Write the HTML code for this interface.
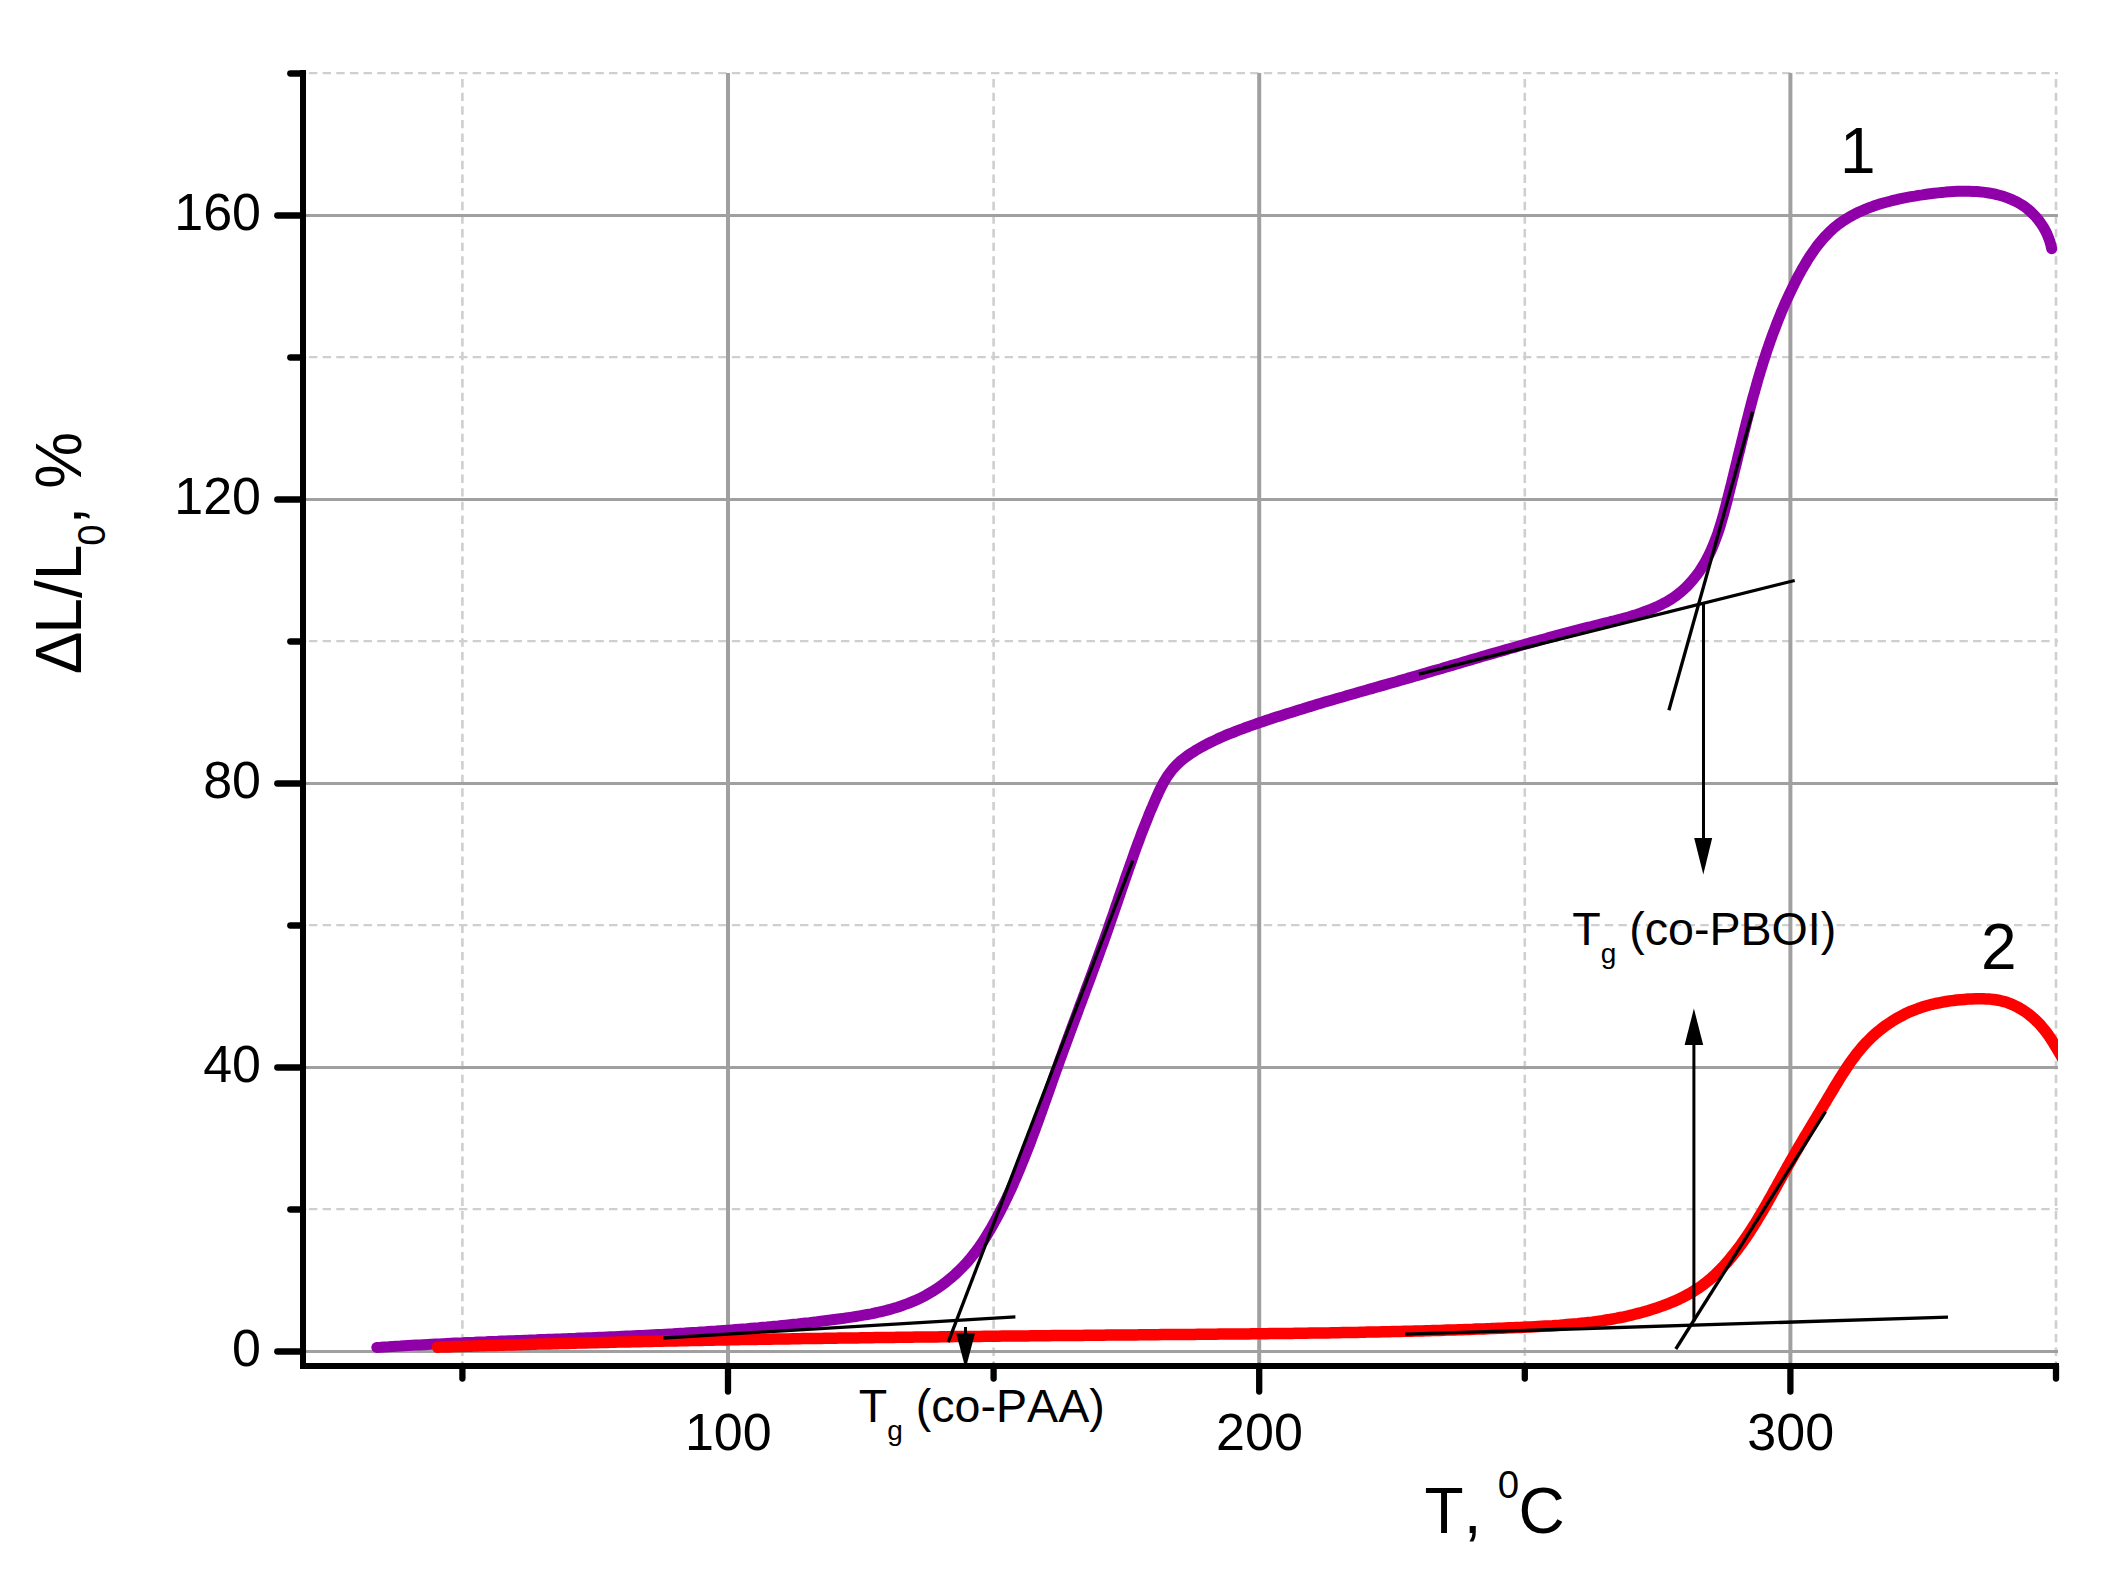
<!DOCTYPE html>
<html lang="en"><head><meta charset="utf-8"><title>TMA curves</title>
<style>
html,body{margin:0;padding:0;background:#fff;}
svg{display:block;}
text{font-family:"Liberation Sans",Arial,Helvetica,sans-serif;fill:#000;font-kerning:none;}
.tk{font-size:52px;}
.ax{font-size:64px;}
.an{font-size:46.6px;}
</style></head><body>
<svg width="2117" height="1582" viewBox="0 0 2117 1582">
<rect x="0" y="0" width="2117" height="1582" fill="#ffffff"/>
<defs><clipPath id="plot"><rect x="303.0" y="70.0" width="1755.0" height="1296.0"/></clipPath></defs>

<g stroke="#cfcfcf" stroke-dasharray="8.4 5.24" fill="none">
<line x1="462.4" y1="79.0" x2="462.4" y2="1366.0" stroke-width="2.6"/>
<line x1="993.6" y1="79.0" x2="993.6" y2="1366.0" stroke-width="2.6"/>
<line x1="1524.8" y1="79.0" x2="1524.8" y2="1366.0" stroke-width="2.6"/>
<line x1="2056.0" y1="79.0" x2="2056.0" y2="1366.0" stroke-width="2.6"/>
<line x1="309.0" y1="1209.1" x2="2058.0" y2="1209.1" stroke-width="2.1"/>
<line x1="309.0" y1="925.1" x2="2058.0" y2="925.1" stroke-width="2.1"/>
<line x1="309.0" y1="641.1" x2="2058.0" y2="641.1" stroke-width="2.1"/>
<line x1="309.0" y1="357.1" x2="2058.0" y2="357.1" stroke-width="2.1"/>
<line x1="309.0" y1="73.1" x2="2058.0" y2="73.1" stroke-width="2.1"/>
</g>
<g stroke="#a0a0a0" fill="none">
<line x1="728.0" y1="73.0" x2="728.0" y2="1366.0" stroke-width="4"/>
<line x1="1259.2" y1="73.0" x2="1259.2" y2="1366.0" stroke-width="4"/>
<line x1="1790.4" y1="73.0" x2="1790.4" y2="1366.0" stroke-width="4"/>
<line x1="303.0" y1="1351.5" x2="2058.0" y2="1351.5" stroke-width="3"/>
<line x1="303.0" y1="1067.5" x2="2058.0" y2="1067.5" stroke-width="3"/>
<line x1="303.0" y1="783.5" x2="2058.0" y2="783.5" stroke-width="3"/>
<line x1="303.0" y1="499.5" x2="2058.0" y2="499.5" stroke-width="3"/>
<line x1="303.0" y1="215.5" x2="2058.0" y2="215.5" stroke-width="3"/>
</g>
<g fill="none" stroke-linejoin="round" clip-path="url(#plot)">
<path d="M376.8,1347.4 L380.7,1347.2 L384.6,1346.9 L388.5,1346.7 L392.4,1346.4 L396.3,1346.2 L400.2,1346.0 L404.1,1345.7 L408.0,1345.5 L411.9,1345.3 L415.8,1345.1 L419.7,1344.9 L423.6,1344.7 L427.5,1344.5 L431.4,1344.3 L435.3,1344.1 L439.2,1343.9 L443.1,1343.7 L447.0,1343.5 L450.9,1343.3 L454.8,1343.1 L458.7,1342.9 L462.6,1342.8 L466.5,1342.6 L470.4,1342.4 L474.3,1342.3 L478.2,1342.1 L482.1,1341.9 L486.0,1341.8 L489.9,1341.6 L493.7,1341.4 L497.6,1341.3 L501.5,1341.1 L505.4,1341.0 L509.3,1340.8 L513.2,1340.7 L517.1,1340.5 L521.0,1340.4 L524.9,1340.2 L528.8,1340.1 L532.7,1339.9 L536.6,1339.8 L540.5,1339.6 L544.4,1339.5 L548.3,1339.3 L552.2,1339.2 L556.1,1339.0 L560.0,1338.9 L563.9,1338.7 L567.8,1338.6 L571.7,1338.4 L575.6,1338.3 L579.5,1338.1 L583.4,1338.0 L587.3,1337.8 L591.2,1337.7 L595.1,1337.5 L599.0,1337.3 L602.9,1337.2 L606.8,1337.0 L610.7,1336.8 L614.6,1336.7 L618.5,1336.5 L622.4,1336.3 L626.3,1336.1 L630.2,1336.0 L634.1,1335.8 L638.0,1335.6 L641.9,1335.4 L645.8,1335.2 L649.7,1335.0 L653.6,1334.8 L657.5,1334.6 L661.4,1334.4 L665.3,1334.2 L669.2,1334.0 L673.1,1333.8 L677.0,1333.5 L680.8,1333.3 L684.7,1333.1 L688.6,1332.8 L692.5,1332.6 L696.4,1332.4 L700.3,1332.1 L704.2,1331.9 L708.1,1331.6 L712.0,1331.3 L715.9,1331.1 L719.8,1330.8 L723.7,1330.5 L727.6,1330.2 L731.5,1329.9 L735.4,1329.6 L739.2,1329.3 L743.1,1329.0 L747.0,1328.7 L750.9,1328.3 L754.8,1328.0 L758.7,1327.7 L762.6,1327.3 L766.5,1327.0 L770.4,1326.6 L774.2,1326.2 L778.1,1325.9 L782.0,1325.5 L785.9,1325.1 L789.8,1324.7 L793.7,1324.3 L797.6,1323.9 L801.5,1323.4 L805.3,1323.0 L809.2,1322.6 L813.1,1322.1 L817.0,1321.7 L820.9,1321.2 L824.8,1320.7 L828.7,1320.2 L832.5,1319.7 L836.4,1319.2 L840.3,1318.7 L844.2,1318.2 L848.1,1317.6 L851.9,1317.1 L855.8,1316.5 L859.6,1315.9 L863.5,1315.2 L867.3,1314.5 L871.2,1313.8 L875.0,1313.0 L878.8,1312.2 L882.5,1311.3 L886.3,1310.4 L890.0,1309.4 L893.7,1308.3 L897.4,1307.2 L901.1,1306.0 L904.7,1304.7 L908.3,1303.4 L911.9,1301.9 L915.5,1300.4 L919.0,1298.8 L922.4,1297.1 L925.9,1295.3 L929.3,1293.3 L932.7,1291.3 L936.0,1289.2 L939.2,1287.0 L942.5,1284.7 L945.6,1282.3 L948.7,1279.8 L951.8,1277.2 L954.8,1274.6 L957.7,1271.9 L960.5,1269.1 L963.3,1266.3 L966.0,1263.4 L968.6,1260.5 L971.1,1257.5 L973.5,1254.5 L975.9,1251.4 L978.2,1248.3 L980.4,1245.1 L982.6,1242.0 L984.7,1238.7 L986.7,1235.5 L988.7,1232.2 L990.7,1228.9 L992.6,1225.5 L994.4,1222.2 L996.3,1218.8 L998.1,1215.4 L999.9,1212.0 L1001.6,1208.5 L1003.4,1205.1 L1005.1,1201.6 L1006.8,1198.1 L1008.4,1194.6 L1010.1,1191.1 L1011.7,1187.6 L1013.3,1184.1 L1014.8,1180.5 L1016.4,1176.9 L1017.9,1173.4 L1019.4,1169.8 L1020.9,1166.2 L1022.4,1162.5 L1023.9,1158.9 L1025.3,1155.3 L1026.7,1151.7 L1028.2,1148.0 L1029.6,1144.4 L1031.0,1140.7 L1032.3,1137.0 L1033.7,1133.3 L1035.1,1129.7 L1036.4,1126.0 L1037.8,1122.3 L1039.1,1118.6 L1040.4,1114.9 L1041.8,1111.2 L1043.1,1107.5 L1044.4,1103.8 L1045.7,1100.1 L1047.0,1096.4 L1048.4,1092.6 L1049.7,1088.9 L1051.0,1085.2 L1052.3,1081.5 L1053.6,1077.8 L1054.9,1074.1 L1056.2,1070.4 L1057.6,1066.7 L1058.9,1063.0 L1060.2,1059.3 L1061.6,1055.6 L1062.9,1052.0 L1064.2,1048.3 L1065.6,1044.6 L1066.9,1040.9 L1068.3,1037.3 L1069.6,1033.6 L1071.0,1029.9 L1072.3,1026.3 L1073.7,1022.6 L1075.1,1018.9 L1076.4,1015.3 L1077.8,1011.6 L1079.1,1008.0 L1080.5,1004.3 L1081.9,1000.7 L1083.2,997.0 L1084.6,993.4 L1085.9,989.7 L1087.3,986.1 L1088.7,982.4 L1090.0,978.8 L1091.4,975.1 L1092.7,971.5 L1094.1,967.8 L1095.4,964.1 L1096.7,960.5 L1098.1,956.8 L1099.4,953.2 L1100.7,949.5 L1102.0,945.9 L1103.4,942.2 L1104.7,938.5 L1106.0,934.9 L1107.3,931.2 L1108.6,927.5 L1109.8,923.8 L1111.1,920.2 L1112.4,916.5 L1113.7,912.8 L1114.9,909.1 L1116.2,905.4 L1117.5,901.7 L1118.7,898.1 L1120.0,894.4 L1121.2,890.7 L1122.5,887.0 L1123.8,883.3 L1125.0,879.6 L1126.3,875.9 L1127.6,872.2 L1128.9,868.5 L1130.2,864.9 L1131.5,861.2 L1132.8,857.5 L1134.1,853.8 L1135.4,850.1 L1136.7,846.5 L1138.1,842.8 L1139.5,839.1 L1140.8,835.5 L1142.2,831.8 L1143.6,828.2 L1145.1,824.5 L1146.5,820.9 L1148.0,817.2 L1149.4,813.6 L1150.9,810.0 L1152.5,806.4 L1154.0,802.8 L1155.6,799.1 L1157.2,795.6 L1158.8,792.0 L1160.5,788.5 L1162.3,785.0 L1164.1,781.6 L1166.1,778.3 L1168.2,775.1 L1170.5,772.0 L1172.8,769.0 L1175.4,766.2 L1178.1,763.5 L1180.9,760.9 L1183.9,758.5 L1187.0,756.1 L1190.2,753.9 L1193.5,751.8 L1196.8,749.7 L1200.2,747.8 L1203.7,745.9 L1207.1,744.0 L1210.6,742.3 L1214.2,740.6 L1217.7,738.9 L1221.3,737.3 L1224.9,735.7 L1228.5,734.2 L1232.1,732.8 L1235.7,731.3 L1239.4,729.9 L1243.1,728.6 L1246.7,727.2 L1250.4,725.9 L1254.1,724.6 L1257.8,723.3 L1261.5,722.1 L1265.2,720.8 L1268.9,719.6 L1272.6,718.3 L1276.3,717.1 L1280.1,715.9 L1283.8,714.7 L1287.5,713.5 L1291.2,712.4 L1295.0,711.2 L1298.7,710.0 L1302.4,708.9 L1306.1,707.7 L1309.9,706.6 L1313.6,705.5 L1317.4,704.3 L1321.1,703.2 L1324.8,702.1 L1328.6,701.0 L1332.3,699.9 L1336.1,698.8 L1339.8,697.7 L1343.6,696.7 L1347.3,695.6 L1351.1,694.5 L1354.8,693.4 L1358.6,692.3 L1362.3,691.3 L1366.1,690.2 L1369.8,689.1 L1373.6,688.1 L1377.3,687.0 L1381.1,685.9 L1384.8,684.9 L1388.6,683.8 L1392.3,682.7 L1396.1,681.7 L1399.8,680.6 L1403.6,679.5 L1407.3,678.4 L1411.0,677.4 L1414.8,676.3 L1418.5,675.2 L1422.3,674.1 L1426.0,673.0 L1429.8,671.9 L1433.5,670.8 L1437.2,669.7 L1441.0,668.7 L1444.7,667.6 L1448.4,666.5 L1452.2,665.4 L1455.9,664.3 L1459.7,663.2 L1463.4,662.1 L1467.1,661.0 L1470.9,659.9 L1474.6,658.8 L1478.4,657.7 L1482.1,656.6 L1485.8,655.5 L1489.6,654.4 L1493.3,653.4 L1497.1,652.3 L1500.8,651.2 L1504.6,650.1 L1508.3,649.0 L1512.1,648.0 L1515.8,646.9 L1519.6,645.8 L1523.3,644.8 L1527.1,643.7 L1530.9,642.6 L1534.6,641.6 L1538.4,640.6 L1542.1,639.5 L1545.9,638.5 L1549.7,637.4 L1553.5,636.4 L1557.2,635.4 L1561.0,634.4 L1564.8,633.4 L1568.6,632.4 L1572.4,631.4 L1576.2,630.4 L1580.0,629.4 L1583.8,628.4 L1587.6,627.4 L1591.4,626.5 L1595.2,625.5 L1599.0,624.6 L1602.8,623.6 L1606.6,622.7 L1610.4,621.7 L1614.2,620.8 L1618.0,619.8 L1621.8,618.8 L1625.6,617.7 L1629.4,616.7 L1633.1,615.5 L1636.8,614.4 L1640.5,613.1 L1644.2,611.8 L1647.8,610.5 L1651.4,609.1 L1655.0,607.5 L1658.5,605.9 L1662.0,604.2 L1665.5,602.4 L1668.8,600.5 L1672.1,598.5 L1675.3,596.3 L1678.4,593.9 L1681.4,591.5 L1684.3,588.9 L1687.1,586.2 L1689.8,583.3 L1692.4,580.4 L1694.8,577.4 L1697.2,574.3 L1699.5,571.2 L1701.6,567.9 L1703.6,564.7 L1705.6,561.3 L1707.4,557.9 L1709.1,554.5 L1710.8,551.0 L1712.3,547.5 L1713.8,543.9 L1715.2,540.3 L1716.6,536.6 L1717.9,533.0 L1719.1,529.3 L1720.3,525.5 L1721.4,521.8 L1722.5,518.0 L1723.6,514.2 L1724.6,510.4 L1725.6,506.6 L1726.6,502.8 L1727.6,499.0 L1728.5,495.2 L1729.5,491.4 L1730.4,487.6 L1731.4,483.8 L1732.3,480.0 L1733.3,476.1 L1734.2,472.3 L1735.1,468.5 L1736.1,464.7 L1737.0,460.9 L1737.9,457.1 L1738.8,453.3 L1739.8,449.5 L1740.7,445.7 L1741.6,441.9 L1742.6,438.1 L1743.5,434.3 L1744.4,430.5 L1745.4,426.7 L1746.3,422.9 L1747.3,419.1 L1748.3,415.3 L1749.2,411.6 L1750.2,407.8 L1751.2,404.0 L1752.2,400.3 L1753.2,396.5 L1754.3,392.8 L1755.3,389.0 L1756.4,385.3 L1757.4,381.5 L1758.5,377.8 L1759.6,374.1 L1760.7,370.3 L1761.9,366.6 L1763.0,362.9 L1764.2,359.2 L1765.4,355.5 L1766.6,351.8 L1767.8,348.2 L1769.1,344.5 L1770.4,340.8 L1771.7,337.2 L1773.0,333.5 L1774.4,329.9 L1775.8,326.2 L1777.2,322.6 L1778.6,319.0 L1780.1,315.4 L1781.5,311.8 L1783.1,308.2 L1784.6,304.6 L1786.2,301.0 L1787.8,297.5 L1789.5,293.9 L1791.2,290.4 L1792.9,286.9 L1794.6,283.4 L1796.4,279.8 L1798.2,276.3 L1800.1,272.9 L1802.0,269.4 L1804.0,266.0 L1806.0,262.6 L1808.0,259.2 L1810.2,255.9 L1812.4,252.7 L1814.6,249.5 L1816.9,246.3 L1819.3,243.3 L1821.8,240.3 L1824.3,237.4 L1827.0,234.6 L1829.7,231.8 L1832.5,229.2 L1835.4,226.7 L1838.4,224.3 L1841.6,222.0 L1844.8,219.9 L1848.1,217.8 L1851.5,215.9 L1854.9,214.0 L1858.4,212.3 L1862.0,210.7 L1865.7,209.1 L1869.3,207.7 L1873.0,206.3 L1876.8,205.0 L1880.6,203.8 L1884.3,202.7 L1888.1,201.7 L1891.9,200.7 L1895.7,199.8 L1899.5,198.9 L1903.3,198.1 L1907.1,197.4 L1911.0,196.7 L1914.8,196.1 L1918.6,195.4 L1922.5,194.9 L1926.3,194.3 L1930.2,193.8 L1934.0,193.3 L1937.9,192.9 L1941.7,192.5 L1945.6,192.1 L1949.5,191.8 L1953.4,191.5 L1957.3,191.3 L1961.2,191.2 L1965.2,191.2 L1969.1,191.2 L1973.1,191.4 L1977.0,191.6 L1981.0,191.9 L1984.9,192.4 L1988.8,193.0 L1992.7,193.7 L1996.5,194.5 L2000.3,195.5 L2004.0,196.6 L2007.6,197.9 L2011.2,199.3 L2014.7,200.9 L2018.1,202.6 L2021.4,204.6 L2024.6,206.7 L2027.6,209.0 L2030.5,211.5 L2033.3,214.2 L2036.0,217.0 L2038.5,220.1 L2040.8,223.2 L2043.0,226.5 L2045.0,230.0 L2046.8,233.5 L2048.3,237.2 L2049.7,240.9 L2050.8,244.7 L2051.7,248.7" stroke="#9000a8" stroke-width="11" stroke-linecap="round"/>
<path d="M437.5,1347.2 L441.1,1347.1 L444.7,1347.0 L448.4,1346.9 L452.0,1346.7 L455.6,1346.6 L459.2,1346.5 L462.8,1346.4 L466.4,1346.3 L470.1,1346.2 L473.7,1346.1 L477.3,1345.9 L480.9,1345.8 L484.5,1345.7 L488.2,1345.6 L491.8,1345.5 L495.4,1345.4 L499.0,1345.3 L502.6,1345.2 L506.2,1345.1 L509.9,1345.0 L513.5,1344.9 L517.1,1344.8 L520.7,1344.7 L524.3,1344.5 L528.0,1344.4 L531.6,1344.3 L535.2,1344.2 L538.8,1344.1 L542.4,1344.0 L546.0,1343.9 L549.7,1343.9 L553.3,1343.8 L556.9,1343.7 L560.5,1343.6 L564.1,1343.5 L567.8,1343.4 L571.4,1343.3 L575.0,1343.2 L578.6,1343.1 L582.2,1343.0 L585.9,1342.9 L589.5,1342.8 L593.1,1342.7 L596.7,1342.7 L600.3,1342.6 L603.9,1342.5 L607.6,1342.4 L611.2,1342.3 L614.8,1342.2 L618.4,1342.1 L622.0,1342.1 L625.7,1342.0 L629.3,1341.9 L632.9,1341.8 L636.5,1341.7 L640.1,1341.7 L643.8,1341.6 L647.4,1341.5 L651.0,1341.4 L654.6,1341.3 L658.2,1341.3 L661.9,1341.2 L665.5,1341.1 L669.1,1341.0 L672.7,1341.0 L676.3,1340.9 L680.0,1340.8 L683.6,1340.7 L687.2,1340.7 L690.8,1340.6 L694.4,1340.5 L698.1,1340.5 L701.7,1340.4 L705.3,1340.3 L708.9,1340.2 L712.5,1340.2 L716.2,1340.1 L719.8,1340.0 L723.4,1340.0 L727.0,1339.9 L730.6,1339.8 L734.3,1339.8 L737.9,1339.7 L741.5,1339.6 L745.1,1339.6 L748.8,1339.5 L752.4,1339.5 L756.0,1339.4 L759.6,1339.3 L763.2,1339.3 L766.9,1339.2 L770.5,1339.2 L774.1,1339.1 L777.7,1339.0 L781.3,1339.0 L785.0,1338.9 L788.6,1338.9 L792.2,1338.8 L795.8,1338.7 L799.4,1338.7 L803.1,1338.6 L806.7,1338.6 L810.3,1338.5 L813.9,1338.5 L817.5,1338.4 L821.2,1338.4 L824.8,1338.3 L828.4,1338.3 L832.0,1338.2 L835.7,1338.2 L839.3,1338.1 L842.9,1338.1 L846.5,1338.0 L850.1,1338.0 L853.8,1337.9 L857.4,1337.9 L861.0,1337.8 L864.6,1337.8 L868.2,1337.7 L871.9,1337.7 L875.5,1337.6 L879.1,1337.6 L882.7,1337.5 L886.3,1337.5 L890.0,1337.4 L893.6,1337.4 L897.2,1337.3 L900.8,1337.3 L904.5,1337.2 L908.1,1337.2 L911.7,1337.2 L915.3,1337.1 L918.9,1337.1 L922.6,1337.0 L926.2,1337.0 L929.8,1336.9 L933.4,1336.9 L937.0,1336.9 L940.7,1336.8 L944.3,1336.8 L947.9,1336.7 L951.5,1336.7 L955.1,1336.6 L958.8,1336.6 L962.4,1336.6 L966.0,1336.5 L969.6,1336.5 L973.3,1336.4 L976.9,1336.4 L980.5,1336.4 L984.1,1336.3 L987.7,1336.3 L991.4,1336.3 L995.0,1336.2 L998.6,1336.2 L1002.2,1336.1 L1005.8,1336.1 L1009.5,1336.1 L1013.1,1336.0 L1016.7,1336.0 L1020.3,1336.0 L1023.9,1335.9 L1027.6,1335.9 L1031.2,1335.8 L1034.8,1335.8 L1038.4,1335.8 L1042.0,1335.7 L1045.7,1335.7 L1049.3,1335.7 L1052.9,1335.6 L1056.5,1335.6 L1060.1,1335.6 L1063.8,1335.5 L1067.4,1335.5 L1071.0,1335.5 L1074.6,1335.4 L1078.2,1335.4 L1081.9,1335.4 L1085.5,1335.3 L1089.1,1335.3 L1092.7,1335.3 L1096.3,1335.2 L1100.0,1335.2 L1103.6,1335.2 L1107.2,1335.1 L1110.8,1335.1 L1114.4,1335.1 L1118.1,1335.0 L1121.7,1335.0 L1125.3,1335.0 L1128.9,1334.9 L1132.5,1334.9 L1136.2,1334.9 L1139.8,1334.8 L1143.4,1334.8 L1147.0,1334.8 L1150.6,1334.7 L1154.3,1334.7 L1157.9,1334.7 L1161.5,1334.6 L1165.1,1334.6 L1168.7,1334.6 L1172.4,1334.6 L1176.0,1334.5 L1179.6,1334.5 L1183.2,1334.5 L1186.8,1334.4 L1190.5,1334.4 L1194.1,1334.4 L1197.7,1334.3 L1201.3,1334.3 L1204.9,1334.3 L1208.6,1334.2 L1212.2,1334.2 L1215.8,1334.2 L1219.4,1334.1 L1223.0,1334.1 L1226.7,1334.1 L1230.3,1334.0 L1233.9,1334.0 L1237.5,1334.0 L1241.1,1333.9 L1244.7,1333.9 L1248.4,1333.9 L1252.0,1333.8 L1255.6,1333.8 L1259.2,1333.7 L1262.8,1333.7 L1266.5,1333.7 L1270.1,1333.6 L1273.7,1333.6 L1277.3,1333.5 L1280.9,1333.5 L1284.6,1333.5 L1288.2,1333.4 L1291.8,1333.4 L1295.4,1333.3 L1299.0,1333.3 L1302.6,1333.2 L1306.3,1333.2 L1309.9,1333.1 L1313.5,1333.1 L1317.1,1333.0 L1320.7,1333.0 L1324.4,1332.9 L1328.0,1332.9 L1331.6,1332.8 L1335.2,1332.7 L1338.8,1332.7 L1342.5,1332.6 L1346.1,1332.6 L1349.7,1332.5 L1353.3,1332.4 L1356.9,1332.4 L1360.6,1332.3 L1364.2,1332.2 L1367.8,1332.1 L1371.4,1332.1 L1375.0,1332.0 L1378.6,1331.9 L1382.3,1331.8 L1385.9,1331.8 L1389.5,1331.7 L1393.1,1331.6 L1396.7,1331.5 L1400.4,1331.4 L1404.0,1331.3 L1407.6,1331.3 L1411.2,1331.2 L1414.8,1331.1 L1418.5,1331.0 L1422.1,1330.9 L1425.7,1330.8 L1429.3,1330.7 L1433.0,1330.6 L1436.6,1330.5 L1440.2,1330.4 L1443.8,1330.2 L1447.4,1330.1 L1451.1,1330.0 L1454.7,1329.9 L1458.3,1329.8 L1461.9,1329.7 L1465.5,1329.5 L1469.2,1329.4 L1472.8,1329.3 L1476.4,1329.1 L1480.0,1329.0 L1483.6,1328.9 L1487.3,1328.7 L1490.9,1328.6 L1494.5,1328.4 L1498.1,1328.3 L1501.8,1328.2 L1505.4,1328.0 L1509.0,1327.8 L1512.6,1327.7 L1516.3,1327.5 L1519.9,1327.4 L1523.5,1327.2 L1527.1,1327.0 L1530.7,1326.9 L1534.4,1326.7 L1538.0,1326.5 L1541.6,1326.3 L1545.2,1326.1 L1548.9,1325.9 L1552.5,1325.7 L1556.1,1325.4 L1559.7,1325.2 L1563.3,1324.9 L1566.9,1324.6 L1570.5,1324.3 L1574.1,1324.0 L1577.7,1323.7 L1581.3,1323.3 L1584.9,1322.9 L1588.5,1322.5 L1592.1,1322.1 L1595.7,1321.6 L1599.2,1321.1 L1602.8,1320.6 L1606.4,1320.0 L1609.9,1319.5 L1613.5,1318.8 L1617.0,1318.2 L1620.5,1317.5 L1624.1,1316.8 L1627.6,1316.0 L1631.1,1315.2 L1634.6,1314.3 L1638.1,1313.4 L1641.6,1312.5 L1645.1,1311.5 L1648.6,1310.5 L1652.0,1309.4 L1655.5,1308.3 L1658.9,1307.1 L1662.4,1305.9 L1665.8,1304.6 L1669.2,1303.3 L1672.6,1301.9 L1675.9,1300.4 L1679.3,1298.9 L1682.5,1297.3 L1685.8,1295.6 L1689.0,1293.9 L1692.2,1292.1 L1695.2,1290.2 L1698.3,1288.2 L1701.3,1286.1 L1704.2,1284.0 L1707.0,1281.8 L1709.8,1279.5 L1712.5,1277.1 L1715.1,1274.7 L1717.7,1272.2 L1720.3,1269.6 L1722.8,1267.0 L1725.2,1264.3 L1727.6,1261.6 L1729.9,1258.8 L1732.2,1256.0 L1734.5,1253.2 L1736.7,1250.4 L1738.9,1247.5 L1741.0,1244.6 L1743.1,1241.6 L1745.2,1238.7 L1747.2,1235.7 L1749.2,1232.7 L1751.2,1229.6 L1753.1,1226.6 L1755.1,1223.5 L1757.0,1220.4 L1758.8,1217.3 L1760.7,1214.2 L1762.6,1211.1 L1764.4,1207.9 L1766.2,1204.8 L1768.0,1201.6 L1769.8,1198.4 L1771.6,1195.3 L1773.3,1192.1 L1775.1,1188.9 L1776.9,1185.7 L1778.6,1182.6 L1780.4,1179.4 L1782.1,1176.2 L1783.9,1173.1 L1785.7,1169.9 L1787.4,1166.7 L1789.2,1163.6 L1791.0,1160.4 L1792.8,1157.3 L1794.6,1154.2 L1796.4,1151.1 L1798.2,1148.0 L1800.0,1144.9 L1801.9,1141.7 L1803.7,1138.6 L1805.5,1135.5 L1807.4,1132.5 L1809.2,1129.4 L1811.1,1126.3 L1812.9,1123.2 L1814.8,1120.1 L1816.7,1117.0 L1818.5,1113.9 L1820.4,1110.8 L1822.2,1107.7 L1824.1,1104.6 L1826.0,1101.5 L1827.8,1098.3 L1829.7,1095.2 L1831.6,1092.1 L1833.4,1089.0 L1835.3,1085.8 L1837.2,1082.7 L1839.1,1079.6 L1841.0,1076.5 L1843.0,1073.4 L1845.0,1070.3 L1847.0,1067.3 L1849.0,1064.3 L1851.1,1061.3 L1853.2,1058.4 L1855.4,1055.5 L1857.6,1052.6 L1859.9,1049.8 L1862.2,1047.1 L1864.6,1044.4 L1867.1,1041.7 L1869.6,1039.2 L1872.2,1036.7 L1874.9,1034.2 L1877.6,1031.9 L1880.4,1029.6 L1883.3,1027.4 L1886.2,1025.2 L1889.2,1023.2 L1892.2,1021.2 L1895.3,1019.3 L1898.4,1017.5 L1901.6,1015.8 L1904.8,1014.1 L1908.1,1012.6 L1911.4,1011.1 L1914.8,1009.8 L1918.2,1008.5 L1921.6,1007.3 L1925.0,1006.2 L1928.5,1005.2 L1932.0,1004.3 L1935.5,1003.5 L1939.1,1002.8 L1942.6,1002.1 L1946.2,1001.5 L1949.8,1000.9 L1953.4,1000.5 L1957.1,1000.0 L1960.7,999.7 L1964.4,999.4 L1968.0,999.1 L1971.7,998.9 L1975.4,998.8 L1979.0,998.7 L1982.7,998.7 L1986.3,998.9 L1989.9,999.1 L1993.5,999.5 L1997.0,1000.0 L2000.5,1000.7 L2004.0,1001.6 L2007.4,1002.6 L2010.7,1003.9 L2014.0,1005.3 L2017.2,1006.9 L2020.3,1008.6 L2023.4,1010.5 L2026.4,1012.5 L2029.3,1014.7 L2032.1,1017.0 L2034.8,1019.4 L2037.5,1022.0 L2040.0,1024.6 L2042.4,1027.4 L2044.7,1030.2 L2046.9,1033.1 L2049.1,1036.1 L2051.1,1039.2 L2053.1,1042.3 L2055.0,1045.4 L2056.9,1048.5 L2058.7,1051.6 L2060.6,1054.8 L2062.3,1057.9 L2064.1,1061.0 L2065.9,1064.0" stroke="#ff0000" stroke-width="11.5" stroke-linecap="round"/>
</g>
<g stroke="#000" stroke-width="3.3" fill="none" stroke-linecap="butt">
<line x1="663.4" y1="1338" x2="1015.4" y2="1316.8"/>
<line x1="948.2" y1="1342.2" x2="1132.7" y2="860.7"/>
<line x1="1418.9" y1="674.2" x2="1794.7" y2="580.5"/>
<line x1="1668.9" y1="710.2" x2="1752.5" y2="411.8"/>
<line x1="1405" y1="1334.2" x2="1948" y2="1317.2"/>
<line x1="1675.8" y1="1349" x2="1825.5" y2="1111.7"/>
<line x1="1703.5" y1="603" x2="1703.5" y2="840" stroke-width="3"/>
<line x1="1693.9" y1="1321.5" x2="1693.9" y2="1043" stroke-width="3"/>
<line x1="965.5" y1="1327" x2="965.5" y2="1335" stroke-width="3"/>
</g>
<g fill="#000" stroke="none">
<polygon points="1694.2,838 1712.2,838 1703.3,874.5"/>
<polygon points="1684.6,1045 1703.2,1045 1693.9,1008.5"/>
<polygon points="956.2,1333.2 975,1333.2 965.6,1369"/>
</g>
<g stroke="#000" stroke-width="6" fill="none">
<path d="M303.0,70.0 L303.0,1366.0 L2059.0,1366.0" stroke-linejoin="miter" stroke-linecap="butt"/>
</g>
<g stroke="#000" stroke-width="6.3" fill="none" stroke-linecap="round">
<line x1="303.0" y1="1351.5" x2="277.3" y2="1351.5"/>
<line x1="303.0" y1="1067.5" x2="277.3" y2="1067.5"/>
<line x1="303.0" y1="783.5" x2="277.3" y2="783.5"/>
<line x1="303.0" y1="499.5" x2="277.3" y2="499.5"/>
<line x1="303.0" y1="215.5" x2="277.3" y2="215.5"/>
<line x1="303.0" y1="1209.5" x2="290.3" y2="1209.5"/>
<line x1="303.0" y1="925.5" x2="290.3" y2="925.5"/>
<line x1="303.0" y1="641.5" x2="290.3" y2="641.5"/>
<line x1="303.0" y1="357.5" x2="290.3" y2="357.5"/>
<line x1="303.0" y1="73.5" x2="290.3" y2="73.5"/>
<line x1="728.0" y1="1366.0" x2="728.0" y2="1391.6"/>
<line x1="1259.2" y1="1366.0" x2="1259.2" y2="1391.6"/>
<line x1="1790.4" y1="1366.0" x2="1790.4" y2="1391.6"/>
<line x1="462.4" y1="1366.0" x2="462.4" y2="1378.6"/>
<line x1="993.6" y1="1366.0" x2="993.6" y2="1378.6"/>
<line x1="1524.8" y1="1366.0" x2="1524.8" y2="1378.6"/>
<line x1="2056.0" y1="1366.0" x2="2056.0" y2="1378.6"/>
</g>
<text class="tk" x="261" y="1365.7" text-anchor="end">0</text>
<text class="tk" x="261" y="1081.7" text-anchor="end">40</text>
<text class="tk" x="261" y="797.7" text-anchor="end">80</text>
<text class="tk" x="261" y="513.7" text-anchor="end">120</text>
<text class="tk" x="261" y="229.7" text-anchor="end">160</text>
<text class="tk" x="728.3" y="1449.7" text-anchor="middle">100</text>
<text class="tk" x="1259.5" y="1449.7" text-anchor="middle">200</text>
<text class="tk" x="1790.7" y="1449.7" text-anchor="middle">300</text>
<text class="ax" x="1424.6" y="1533">T, <tspan font-size="38.4px" dy="-35.3" dx="-1.5">0</tspan><tspan dy="35.3" dx="-0.7">C</tspan></text>
<text class="ax" transform="translate(80.5,673) rotate(-90)"><tspan x="-1.2" y="0">Δ</tspan><tspan x="39.3">L/L</tspan><tspan x="127.3" font-size="38.4px" dy="24.5">0</tspan><tspan x="148.6" dy="-24.5">, %</tspan></text>
<text class="ax" x="1840" y="172.8">1</text>
<text class="ax" x="1981" y="969">2</text>
<text class="an" x="1572.2" y="945.1">T<tspan font-size="28px" dy="17.8">g</tspan><tspan dy="-17.8"> (co-PBOI)</tspan></text>
<text class="an" x="858.8" y="1421.9">T<tspan font-size="28px" dy="17.8">g</tspan><tspan dy="-17.8"> (co-PAA)</tspan></text>
</svg></body></html>
